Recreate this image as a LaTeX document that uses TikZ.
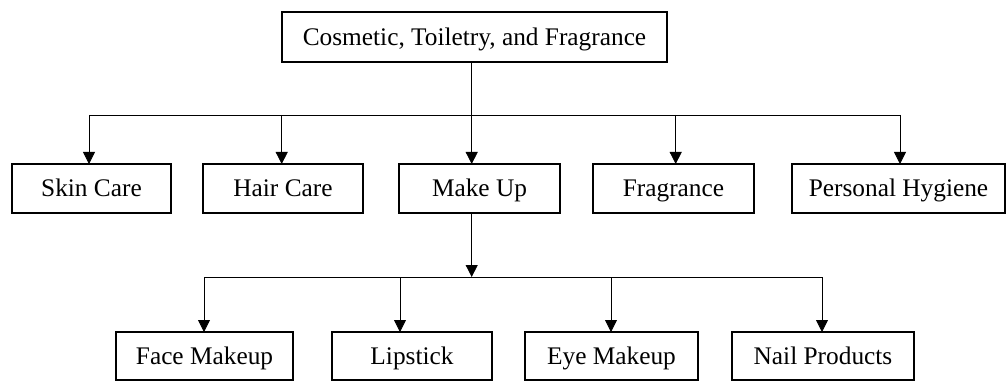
\documentclass[tikz,border=0pt]{standalone}
\usepackage{fontspec}
\setmainfont{Liberation Serif}
\usetikzlibrary{arrows.meta}
\begin{document}
\begin{tikzpicture}[x=0.75pt,y=-0.75pt,
  box/.style 2 args={draw, line width=1pt, inner sep=0pt, outer sep=0pt,
    font=\fontsize{19}{22}\selectfont, text height=12.5pt, text depth=0pt,
    minimum width={#1*0.75pt}, minimum height={#2*0.75pt}},
  ln/.style={line width=0.6pt},
  arr/.style={ln, -{Triangle[length=9pt,width=9pt]}}]
\useasboundingbox (0,0) rectangle (1007,381);
% nodes
\node[box={385}{50}] (top) at (474.5,37) {Cosmetic, Toiletry, and Fragrance};
\node[box={159}{49}] (sk) at (91.5,188.5) {Skin Care};
\node[box={160}{49}] (hc) at (283,188.5) {Hair Care};
\node[box={161}{49}] (mu) at (479.5,188.5) {Make Up};
\node[box={161}{49}] (fr) at (673.5,188.5) {Fragrance};
\node[box={213}{49}] (ph) at (898.5,188.5) {Personal Hygiene};
\node[box={177}{48}] (fm) at (204.5,356) {Face Makeup};
\node[box={160}{48}] (ls) at (412,356) {Lipstick};
\node[box={173}{48}] (em) at (611.5,356) {Eye Makeup};
\node[box={182}{48}] (np) at (823,356) {Nail Products};
% bus coordinates
\coordinate (b0) at (471.7,115);
\coordinate (b1) at (89,115);
\coordinate (b2) at (281.7,115);
\coordinate (b4) at (675.7,115);
\coordinate (b5) at (900,115);
\coordinate (c0) at (471.7,277);
\coordinate (c1) at (204,277);
\coordinate (c2) at (400,277);
\coordinate (c3) at (611,277);
\coordinate (c4) at (822,277);
% first level
\draw[ln] (top.south -| b0) -- (b0);
\draw[ln] (b1) -- (b5);
\draw[arr] (b1) -- (b1 |- sk.north);
\draw[arr] (b2) -- (b2 |- hc.north);
\draw[arr] (b0) -- (b0 |- mu.north);
\draw[arr] (b4) -- (b4 |- fr.north);
\draw[arr] (b5) -- (b5 |- ph.north);
% second level
\draw[arr] (mu.south -| c0) -- (c0);
\draw[ln] (c1) -- (c4);
\draw[arr] (c1) -- (c1 |- fm.north);
\draw[arr] (c2) -- (c2 |- ls.north);
\draw[arr] (c3) -- (c3 |- em.north);
\draw[arr] (c4) -- (c4 |- np.north);
\end{tikzpicture}
\end{document}
